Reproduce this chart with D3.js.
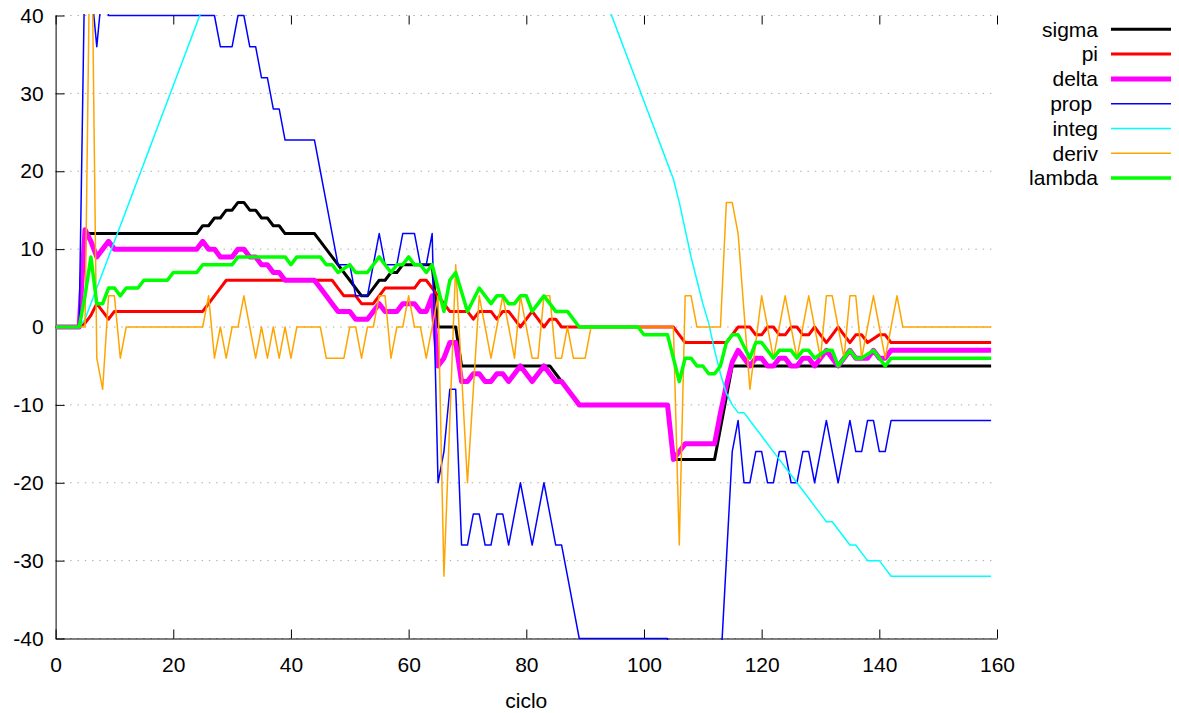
<!DOCTYPE html>
<html>
<head>
<meta charset="utf-8">
<script src="https://cdn.jsdelivr.net/npm/d3@7"></script>
<style>
  html, body { margin: 0; padding: 0; background: #fff; }
  svg { display: block; font-family: "Liberation Sans", Arial, sans-serif; }
</style>
</head>
<body>
<svg id="chart" width="1179" height="713"></svg>
<script>
// ---- data (one value per ciclo 0..159) ----
const sigma = [
  0,0,0,0,0,12,12,12,12,12,
  12,12,12,12,12,12,12,12,12,12,
  12,12,12,12,12,13,13,14,14,15,
  15,16,16,15,15,14,14,13,13,12,
  12,12,12,12,12,11,10,9,8,7,
  6,5,4,4,5,6,6,7,7,8,
  8,8,8,8,8,0,0,0,0,-5,
  -5,-5,-5,-5,-5,-5,-5,-5,-5,-5,
  -5,-5,-5,-5,-5,-6,-7,-8,-9,-10,
  -10,-10,-10,-10,-10,-10,-10,-10,-10,-10,
  -10,-10,-10,-10,-10,-17,-17,-17,-17,-17,
  -17,-17,-17,-13,-9,-5,-5,-5,-5,-5,
  -5,-5,-5,-5,-5,-5,-5,-5,-5,-5,
  -5,-5,-5,-5,-5,-5,-5,-5,-5,-5,
  -5,-5,-5,-5,-5,-5,-5,-5,-5,-5,
  -5,-5,-5,-5,-5,-5,-5,-5,-5,-5
];
const pi = [
  0,0,0,0,0,0.5,1.5,3,2,1,
  2,2,2,2,2,2,2,2,2,2,
  2,2,2,2,2,2,3,4,5,6,
  6,6,6,6,6,6,6,6,6,6,
  6,6,6,6,6,6,6,6,5,4,
  4,4,3,3,3,4,5,5,5,5,
  5,5,6,6,5,4,3,2,2,2,
  2,1,2,2,2,1,2,2,1,0,
  1,2,1,0,1,1,0,0,0,0,
  0,0,0,0,0,0,0,0,0,0,
  0,0,0,0,0,0,-1,-2,-2,-2,
  -2,-2,-2,-2,-2,-1,0,0,0,-1,
  -1,0,0,-1,-1,0,0,-1,-1,0,
  -1,-2,-1,0,-1,-2,-1,-1,-2,-1.5,
  -1,-1,-2,-2,-2,-2,-2,-2,-2,-2,
  -2,-2,-2,-2,-2,-2,-2,-2,-2,-2
];
const delta = [
  0,0,0,0,0,12.5,11,9,10,11,
  10,10,10,10,10,10,10,10,10,10,
  10,10,10,10,10,11,10,10,9,9,
  9,10,10,9,9,8,8,7,7,6,
  6,6,6,6,6,5,4,3,2,2,
  2,1,1,1,2,3,2,2,2,3,
  3,3,2,2,4,-5,-4,-2,-2,-7,
  -7,-6,-6,-7,-7,-6,-6,-7,-6,-5,
  -6,-7,-6,-5,-6,-7,-7,-8,-9,-10,
  -10,-10,-10,-10,-10,-10,-10,-10,-10,-10,
  -10,-10,-10,-10,-10,-17,-16,-15,-15,-15,
  -15,-15,-15,-11,-7.5,-4.5,-3,-4,-5,-4,
  -4,-5,-5,-4,-4,-5,-5,-4,-4,-5,
  -4,-3,-4,-5,-4,-3,-4,-4,-4,-3,
  -4,-4,-3,-3,-3,-3,-3,-3,-3,-3,
  -3,-3,-3,-3,-3,-3,-3,-3,-3,-3
];
const prop = [
  0,0,0,0,0,48,44,36,44,40,
  40,40,40,40,40,40,40,40,40,40,
  40,40,40,40,40,40,40,40,36,36,
  36,40,40,36,36,32,32,28,28,24,
  24,24,24,24,24,20,16,12,8,8,
  8,4,4,4,8,12,8,8,8,12,
  12,12,8,8,12,-20,-16,-8,-8,-28,
  -28,-24,-24,-28,-28,-24,-24,-28,-24,-20,
  -24,-28,-24,-20,-24,-28,-28,-32,-36,-40,
  -40,-40,-40,-40,-40,-40,-40,-40,-40,-40,
  -40,-40,-40,-40,-40,-68,-68,-68,-68,-68,
  -68,-68,-56,-44,-30,-16,-12,-20,-20,-16,
  -16,-20,-20,-16,-16,-20,-20,-16,-16,-20,
  -16,-12,-16,-20,-16,-12,-16,-16,-12,-12,
  -16,-16,-12,-12,-12,-12,-12,-12,-12,-12,
  -12,-12,-12,-12,-12,-12,-12,-12,-12,-12
];
const integ = [
  0,0,0,0,0,1,3,5,7,9,
  11,13,15,17,19,21,23,25,27,29,
  31,33,35,37,39,41,43,45,47,49,
  51,53,55,57,59,61,63,65,67,69,
  71,73,75,77,79,81,83,85,87,87,
  87,87,87,87,87,87,87,87,87,87,
  87,87,87,87,87,87,87,87,87,87,
  87,87,85,83,81,79,77,75,73,71,
  69,67,65,63,61,59,57,55,53,51,
  49,47,45,43,41,39,37,35,33,31,
  29,27,25,23,21,19,16,12.5,9,6,
  3,0.5,-3,-6,-8.5,-10,-11,-11,-12,-13,
  -14,-15,-16,-17,-18,-19,-20,-21,-22,-23,
  -24,-25,-25,-26,-27,-28,-28,-29,-30,-30,
  -30,-31,-32,-32,-32,-32,-32,-32,-32,-32,
  -32,-32,-32,-32,-32,-32,-32,-32,-32,-32
];
const deriv = [
  0,0,0,0,0,0,60,-4,-8,4,
  4,-4,0,0,0,0,0,0,0,0,
  0,0,0,0,0,0,4,-4,0,-4,
  0,0,4,0,-4,0,-4,0,-4,0,
  -4,0,0,0,0,0,-4,-4,-4,-4,
  0,0,-4,0,0,4,4,-4,0,0,
  4,0,0,-4,0,4,-32,-12,8,-6,
  -20,-8,4,0,-4,0,4,0,-4,4,
  0,-4,-4,4,4,-4,-4,0,-4,-4,
  -4,0,0,0,0,0,0,0,0,0,
  0,0,0,0,0,0,-28,4,4,0,
  0,0,0,0,16,16,12,2,-8,-2,
  4,0,-4,0,4,0,-4,0,4,0,
  -4,4,4,0,-4,4,4,-4,0,4,
  0,-4,0,4,0,0,0,0,0,0,
  0,0,0,0,0,0,0,0,0,0
];
const lambda = [
  0,0,0,0,0,4,9,3,3,5,
  5,4,5,5,5,6,6,6,6,6,
  7,7,7,7,7,8,8,8,8,8,
  8,9,9,9,9,9,9,9,9,9,
  8,9,9,9,9,9,8,8,7,7.5,
  8,7,7,7,8,9,8,7,8,8,
  9,8,8,7,8,5,2,6,7,4.5,
  2,3.5,5,4,3,4,4,3,3,4,
  4,2,3,4,3,2,2,2,1,0,
  0,0,0,0,0,0,0,0,0,0,
  -1,-1,-1,-1,-1,-4,-7,-4,-4,-5,
  -5,-6,-6,-5,-2,-1,-1,-2.5,-4,-2,
  -2,-3,-4,-3,-3,-3,-4,-3,-3,-4,
  -3.5,-3,-3,-5,-4,-3,-4,-4,-3.5,-3,
  -4,-5,-4,-4,-4,-4,-4,-4,-4,-4,
  -4,-4,-4,-4,-4,-4,-4,-4,-4,-4
];
const seriesNames = ["sigma", "pi", "delta", "prop ", "integ", "deriv", "lambda"];
const xTicks = [0, 20, 40, 60, 80, 100, 120, 140, 160];
const yTicks = [-40, -30, -20, -10, 0, 10, 20, 30, 40];
const xLabel = "ciclo";

// ---- styles ----
const seriesData = [sigma, pi, delta, prop, integ, deriv, lambda];
const colors = ["#000000", "#ff0000", "#ff00ff", "#0000ff", "#00ffff", "#ffa500", "#00ff00"];
const widths = [3, 3, 5, 1.5, 1.5, 1.5, 3.5];

const L = 55.6, R = 997, T = 15.5, B = 638.5;
const FS = 21;
const svg = d3.select("#chart");

const x = d3.scaleLinear().domain([0, 160]).range([L, R]);
const y = d3.scaleLinear().domain([-40, 40]).range([B, T]);
const fmt = d => String(d);

// grid
svg.append("g").selectAll("line").data(yTicks).join("line")
  .attr("x1", L).attr("x2", R)
  .attr("y1", d => y(d)).attr("y2", d => y(d))
  .attr("stroke", "#a8a8a8").attr("stroke-width", 1)
  .attr("stroke-dasharray", "1.4,5.9");

// axes
const gx = svg.append("g").attr("transform", `translate(0,${B})`)
  .call(d3.axisBottom(x).tickValues(xTicks).tickFormat(fmt)
    .tickSizeInner(-9).tickSizeOuter(0).tickPadding(19));
const gxTop = svg.append("g").attr("transform", `translate(0,${T})`)
  .call(d3.axisTop(x).tickValues(xTicks).tickFormat("")
    .tickSizeInner(-9).tickSizeOuter(0));
gxTop.select(".domain").remove();
const gy = svg.append("g").attr("transform", `translate(${L},0)`)
  .call(d3.axisLeft(y).tickValues(yTicks).tickFormat(fmt)
    .tickSizeInner(-9).tickSizeOuter(0).tickPadding(12));
[gx, gxTop, gy].forEach(g => {
  g.selectAll("text").attr("font-size", FS).attr("fill", "#000")
    .attr("font-family", "'Liberation Sans', Arial, sans-serif");
  g.selectAll("line").attr("stroke", "#000");
  g.selectAll(".domain").attr("stroke", "#000");
});

svg.append("text").attr("x", (L + R) / 2).attr("y", 708)
  .attr("text-anchor", "middle").attr("font-size", FS).text(xLabel);

// clip
svg.append("defs").append("clipPath").attr("id", "clip")
  .append("rect").attr("x", L).attr("y", T - 1.5)
  .attr("width", R - L + 1).attr("height", B - T + 3);

const line = d3.line().x((d, i) => x(i)).y(d => y(d));
const plot = svg.append("g").attr("clip-path", "url(#clip)");
seriesData.forEach((s, k) => {
  plot.append("path").datum(s)
    .attr("d", line)
    .attr("fill", "none")
    .attr("stroke", colors[k])
    .attr("stroke-width", widths[k])
    .attr("stroke-linejoin", "round");
});

// legend
const leg = svg.append("g");
seriesNames.forEach((n, k) => {
  const yy = 29.3 + k * 24.8;
  leg.append("text").attr("x", 1098).attr("y", yy).attr("dy", "0.35em")
    .attr("text-anchor", "end").attr("font-size", FS)
    .style("white-space", "pre").text(n);
  leg.append("line").attr("x1", 1111).attr("x2", 1171)
    .attr("y1", yy).attr("y2", yy)
    .attr("stroke", colors[k]).attr("stroke-width", widths[k]);
});
</script>
</body>
</html>
